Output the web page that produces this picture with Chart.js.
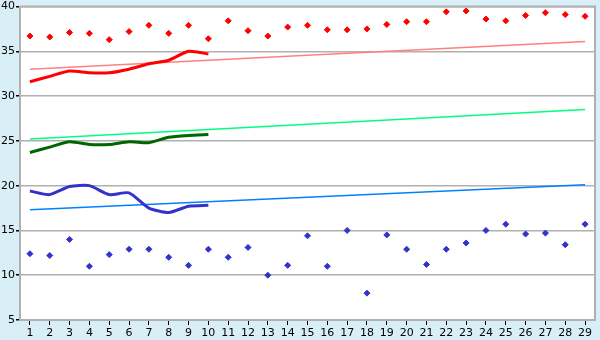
<!DOCTYPE html>
<html>
<head>
<meta charset="utf-8">
<script src="https://cdn.jsdelivr.net/npm/chart.js@4/dist/chart.umd.min.js"></script>
<style>
  html, body { margin: 0; padding: 0; background: #d9eff7; }
  #wrap { width: 600px; height: 340px; }
</style>
</head>
<body>
<div id="wrap"><canvas id="chart"></canvas></div>
<script>
// x categories
const labels = ['1','2','3','4','5','6','7','8','9','10','11','12','13','14','15',
                '16','17','18','19','20','21','22','23','24','25','26','27','28','29'];

// scattered points (diamonds)
const redPoints = [36.7, 36.6, 37.1, 37.0, 36.3, 37.2, 37.9, 37.0, 37.9, 36.4,
                   38.4, 37.3, 36.7, 37.7, 37.9, 37.4, 37.4, 37.5, 38.0, 38.3,
                   38.3, 39.4, 39.5, 38.6, 38.4, 39.0, 39.3, 39.1, 38.9];
const bluePoints = [12.4, 12.2, 14.0, 11.0, 12.3, 12.9, 12.9, 12.0, 11.1, 12.9,
                    12.0, 13.1, 10.0, 11.1, 14.4, 11.0, 15.0, 8.0, 14.5, 12.9,
                    11.2, 12.9, 13.6, 15.0, 15.7, 14.6, 14.7, 13.4, 15.7];

// thick lines (first 10 categories)
const redLine = [31.6, 32.2, 32.8, 32.6, 32.6, 33.0, 33.6, 34.0, 35.0, 34.7];
const greenLine = [23.7, 24.3, 24.9, 24.6, 24.6, 24.9, 24.8, 25.4, 25.6, 25.7];
const blueLine = [19.4, 19.0, 19.9, 20.0, 19.0, 19.2, 17.5, 17.0, 17.7, 17.8];

// trend lines: value at first and last category
const redTrend = [33.0, 36.1];
const greenTrend = [25.2, 28.5];
const blueTrend = [17.3, 20.1];

// y axis
const yMin = 5, yMax = 40, yStep = 5;

function trend(ends) {
    return [{ x: labels[0], y: ends[0] }, { x: labels[labels.length - 1], y: ends[1] }];
}

function scatterSet(data, color) {
    return {
        data: data, showLine: false, pointStyle: 'rectRot',
        pointRadius: 3, pointBackgroundColor: color, pointBorderColor: color,
        pointBorderWidth: 1, order: 1
    };
}

function lineSet(data, color, width, order) {
    return {
        data: data, borderColor: color, borderWidth: width, pointRadius: 0,
        tension: 0.2, fill: false, order: order
    };
}

// light blue page, white plot area, gray frame
const frame = {
    id: 'frame',
    beforeDraw(chart) {
        const { ctx, chartArea: a } = chart;
        ctx.save();
        ctx.fillStyle = '#d9eff7';
        ctx.fillRect(0, 0, chart.width, chart.height);
        ctx.fillStyle = '#ffffff';
        ctx.fillRect(a.left, a.top, a.right - a.left, a.bottom - a.top);
        ctx.restore();
    },
    afterDatasetsDraw(chart) {
        const { ctx, chartArea: a } = chart;
        ctx.save();
        ctx.strokeStyle = '#b0b0b0';
        ctx.lineWidth = 2;
        ctx.beginPath();
        ctx.moveTo(a.left, a.top);
        ctx.lineTo(a.right, a.top);
        ctx.lineTo(a.right, a.bottom);
        ctx.stroke();
        ctx.restore();
    }
};

const tickFont = { family: 'DejaVu Sans', size: 11, lineHeight: 1 };

new Chart(document.getElementById('chart').getContext('2d'), {
    type: 'line',
    data: {
        labels: labels,
        datasets: [
            scatterSet(redPoints, '#ff0000'),
            scatterSet(bluePoints, '#3333cc'),
            lineSet(redLine, '#ff0000', 3, 2),
            lineSet(greenLine, '#006600', 3, 2),
            lineSet(blueLine, '#3333cc', 3, 2),
            lineSet(trend(redTrend), '#ff8080', 1.5, 3),
            lineSet(trend(greenTrend), '#00ff80', 1.5, 3),
            lineSet(trend(blueTrend), '#0080ff', 1.5, 3)
        ]
    },
    options: {
        responsive: true,
        maintainAspectRatio: false,
        animation: false,
        layout: { padding: { top: 5, right: 5, left: 0, bottom: 0 } },
        plugins: { legend: { display: false }, tooltip: { enabled: false } },
        scales: {
            x: {
                offset: true,
                grid: { offset: false, drawOnChartArea: false, drawTicks: true, tickLength: 5, tickColor: '#000000' },
                border: { color: '#b0b0b0', width: 2 },
                ticks: { color: '#000000', font: tickFont, padding: 3, maxRotation: 0, autoSkip: false },
                afterFit(scale) { scale.height = 20; }
            },
            y: {
                min: yMin, max: yMax,
                grid: { color: '#b0b0b0', lineWidth: 1.5, tickLength: 4, tickColor: '#000000' },
                border: { color: '#b0b0b0', width: 2 },
                ticks: { stepSize: yStep, color: '#000000', font: tickFont, padding: 1 },
                afterFit(scale) { scale.width = 20; }
            }
        }
    },
    plugins: [frame]
});
</script>
</body>
</html>
